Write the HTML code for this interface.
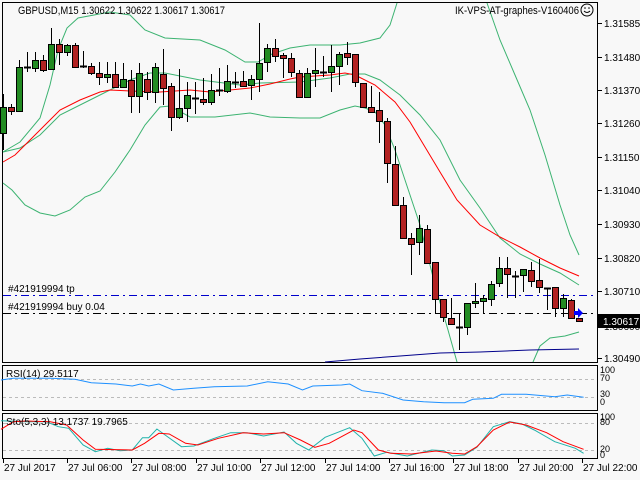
<!DOCTYPE html>
<html><head><meta charset="utf-8"><style>
html,body{margin:0;padding:0;background:#f8f8f8;}
svg{display:block;font-family:"Liberation Sans",sans-serif;}
</style></head><body>
<svg id="s" width="640" height="480" xmlns="http://www.w3.org/2000/svg">
<rect width="640" height="480" fill="#f8f8f8"/>
<g id="g"></g>
<text x="18" y="14" font-size="11" fill="#000" textLength="207" lengthAdjust="spacingAndGlyphs">GBPUSD,M15  1.30622 1.30622 1.30617 1.30617</text>
<text x="455" y="14" font-size="11" fill="#000" textLength="124" lengthAdjust="spacingAndGlyphs">IK-VPS-AT-graphes-V160406</text>
<circle cx="587" cy="10" r="6" fill="#f8f8f8" stroke="#000"/>
<circle cx="585" cy="8" r="0.8" fill="#000"/><circle cx="589" cy="8" r="0.8" fill="#000"/>
<path d="M584 11 Q587 14 590 11" fill="none" stroke="#000"/>
<text x="8" y="292" font-size="10" fill="#000">#421919994 tp</text>
<text x="8" y="310" font-size="10" fill="#000">#421919994 buy 0.04</text>
<text x="6" y="377" font-size="10" fill="#000">RSI(14) 29.5117</text>
<text x="6" y="425" font-size="10" fill="#000">Sto(5,3,3) 13.1737 19.7965</text>
</svg>
<script>
var g=document.getElementById('g'),h='';
function pl(pts,c,w,ex){h+='<polyline fill="none" stroke="'+c+'" stroke-width="'+(w||1)+'" '+(ex||'')+' points="'+pts.map(function(p){return p[0]+','+p[1]}).join(' ')+'"/>';}
h+='<rect x="2.5" y="2.5" width="595" height="360" fill="#f8f8f8" stroke="#000"/>';
h+='<rect x="2.5" y="365.5" width="595" height="45" fill="#f8f8f8" stroke="#000"/>';
h+='<rect x="2.5" y="413.5" width="595" height="45" fill="#f8f8f8" stroke="#000"/>';
[379,397].forEach(function(y){h+='<line x1="3" x2="597" y1="'+y+'.5" y2="'+y+'.5" stroke="#bbb" stroke-dasharray="3,3"/>';});
[423,450].forEach(function(y){h+='<line x1="3" x2="597" y1="'+y+'.5" y2="'+y+'.5" stroke="#bbb" stroke-dasharray="3,3"/>';});
h+='<line x1="3" x2="597" y1="295.5" y2="295.5" stroke="#0000cc" stroke-dasharray="8,4,2,4"/>';
h+='<line x1="3" x2="597" y1="313.5" y2="313.5" stroke="#000" stroke-dasharray="8,4,2,4"/>';
var G='#3cb371';
pl([[3,152],[20,142],[40,118],[50,85],[58,50],[67,28],[78,18],[110,12],[130,15],[145,30],[165,38],[200,40],[225,50],[245,62],[258,62],[272,54],[290,48],[310,45],[340,45],[360,43],[380,38],[390,25],[397,3]],G);
pl([[487,3],[500,40],[515,75],[530,110],[545,155],[560,205],[570,235],[579,255]],G);
pl([[3,152],[20,148],[40,135],[60,115],[100,95],[130,80],[150,73],[165,73],[200,80],[240,85],[260,83],[300,82],[330,78],[350,74],[365,74],[380,80],[400,95],[420,115],[440,140],[460,180],[480,208],[500,238],[520,254],[540,264],[560,273],[579,285]],G);
pl([[3,183],[12,190],[25,205],[40,213],[55,216],[70,210],[85,197],[100,191],[115,172],[130,150],[145,125],[160,107],[170,106],[190,117],[215,117],[250,113],[270,117],[300,118],[320,118],[340,110],[355,106],[365,108],[375,112],[385,125],[395,150],[405,180],[420,225],[435,285],[448,330],[457,362]],G);
pl([[533,362],[540,346],[550,338],[565,336],[579,332]],G);
pl([[3,162],[15,155],[30,140],[45,125],[60,110],[80,100],[100,92],[110,90],[130,91],[160,92],[190,90],[210,92],[230,90],[250,88],[270,84],[290,79],[300,77],[330,75],[345,73],[355,75],[375,85],[395,102],[410,122],[425,147],[440,172],[457,200],[480,225],[500,237],[520,247],[540,258],[560,268],[579,276]],'#ff0000');
pl([[325,362],[360,359],[400,356],[440,353],[480,352],[530,350],[579,349]],'#00008b');
var C=[[133,107,94,150],[107,111,104,115],[111,67,60,112],[67,68,52,72],[68,60,52,72],[60,70,55,72],[69,44,28,69],[44,52,39,65],[52,45,44,56],[45,67,43,68],[66,66,51,68],[66,73,63,75],[73,77,62,85],[77,74,62,83],[74,87,62,88],[87,79,63,88],[80,96,70,113],[96,73,63,113],[79,92,72,100],
[92,67,63,103],[74,88,49,105],[86,117,83,131],[117,108,69,119],[108,95,82,122],[98,98,82,114],[99,102,78,105],[102,90,74,105],[90,90,68,96],[91,81,65,93],[82,82,72,88],[81,86,71,87],[85,79,75,100],[79,63,23,92],[62,48,44,72],[48,56,39,62],[55,58,53,78],[58,72,53,77],[73,97,70,98],
[97,73,68,97],[73,70,48,87],[72,72,56,77],[72,66,45,92],[66,54,52,85],[53,57,42,65],[54,82,54,87],[83,107,83,108],[107,112,86,113],[110,121,92,143],[121,163,118,183],[164,205,146,205],[205,238,197,238],[238,244,233,275],[242,228,215,255],[229,263,225,263],[262,299,262,313],[299,317,299,322],[318,324,298,324],[327,327,313,350],[327,303,303,335],[303,301,283,308],[301,298,295,313],[299,284,281,306],[283,268,257,287],[268,274,257,298],[276,276,271,298],[275,269,269,292],[270,281,262,287],[280,287,259,293],[288,288,288,310],[287,308,287,317],[308,298,294,317],[300,318,299,319],[318,321,318,321]];
C.forEach(function(c,k){var x=3+8*k,o=c[0],cl=c[1],hi=c[2],lo=c[3];
 h+='<line x1="'+(x+.5)+'" x2="'+(x+.5)+'" y1="'+hi+'" y2="'+lo+'" stroke="#000"/>';
 var t=Math.min(o,cl),b=Math.max(o,cl);
 if(b-t<2){h+='<line x1="'+(x-3)+'" x2="'+(x+4)+'" y1="'+(t+.5)+'" y2="'+(t+.5)+'" stroke="#000" stroke-width="2"/>';}
 else h+='<rect x="'+(x-2.5)+'" y="'+(t+.5)+'" width="6" height="'+(b-t)+'" fill="'+(cl<o?'#228b22':'#b22222')+'" stroke="#000"/>';
});
h+='<path d="M574 311 L578 311 L578 308 L583 313 L578 318 L578 315 L574 315Z" fill="#0000ff"/>';
var K=2.4375;
function cv(a){return a.map(function(p){return [(p[0]/K+1).toFixed(1),(360+p[1]/3).toFixed(1)]});}
pl(cv([[0,60],[30,55],[70,55],[120,55],[180,58],[220,68],[280,72],[320,78],[340,72],[360,78],[385,72],[420,90],[470,85],[520,80],[600,78],[650,65],[700,72],[735,90],[760,78],[830,75],[850,72],[880,92],[930,100],[980,120],[1030,125],[1080,128],[1130,128],[1150,118],[1200,115],[1220,103],[1280,103],[1350,110],[1380,105],[1420,112]]),'#1e90ff');
pl(cv([[0,182],[60,185],[110,185],[140,200],[165,205],[200,255],[230,275],[260,265],[290,272],[320,270],[345,233],[360,233],[380,207],[400,225],[440,260],[470,258],[520,235],[560,218],[600,218],[640,228],[690,216],[720,250],[750,270],[790,232],[850,203],[880,235],[910,288],[940,277],[990,288],[1050,270],[1080,272],[1100,288],[1130,285],[1160,262],[1200,200],[1240,185],[1270,192],[1300,210],[1350,245],[1400,265],[1420,280]]),'#20b2aa');
pl(cv([[0,208],[30,185],[60,183],[120,185],[160,195],[200,240],[230,268],[320,270],[350,250],[385,220],[410,222],[450,250],[480,255],[530,235],[590,218],[640,222],[690,218],[730,240],[765,262],[800,250],[860,210],[880,218],[920,270],[950,280],[1000,282],[1060,273],[1100,280],[1130,282],[1160,260],[1200,210],[1240,186],[1280,195],[1330,218],[1370,245],[1420,268]]),'#ff0000');
var P=[['1.31585',23],['1.31480',57],['1.31370',90],['1.31260',123],['1.31150',157],['1.31040',190],['1.30930',224],['1.30820',258],['1.30710',291],['1.30490',358]];
P.forEach(function(p){h+='<line x1="598" x2="602" y1="'+(p[1]+.5)+'" y2="'+(p[1]+.5)+'" stroke="#000"/><text x="604" y="'+(p[1]+4)+'" font-size="10">'+p[0]+'</text>';});
h+='<text x="604" y="330" font-size="10">1.30600</text>';
h+='<rect x="598" y="314" width="42" height="14" fill="#000"/><text x="603" y="325" font-size="10" fill="#fff">1.30617</text>';
[['100',373],['70',381],['30',397],['0',405]].forEach(function(p){h+='<text x="600" y="'+p[1]+'" font-size="9">'+p[0]+'</text>';});
[['100',420],['80',425],['20',452],['0',458]].forEach(function(p){h+='<text x="600" y="'+p[1]+'" font-size="9">'+p[0]+'</text>';});
var T=['27 Jul 2017','27 Jul 06:00','27 Jul 08:00','27 Jul 10:00','27 Jul 12:00','27 Jul 14:00','27 Jul 16:00','27 Jul 18:00','27 Jul 20:00','27 Jul 22:00'];
[8,163,320,478,633,792,948,1105,1262,1418].forEach(function(zx,i){var x=Math.round(zx/K);h+='<line x1="'+(x+.5)+'" x2="'+(x+.5)+'" y1="459" y2="463" stroke="#000"/><text x="'+(x+1)+'" y="471" font-size="10">'+T[i]+'</text>';});
g.innerHTML=h;
</script>
</body></html>
